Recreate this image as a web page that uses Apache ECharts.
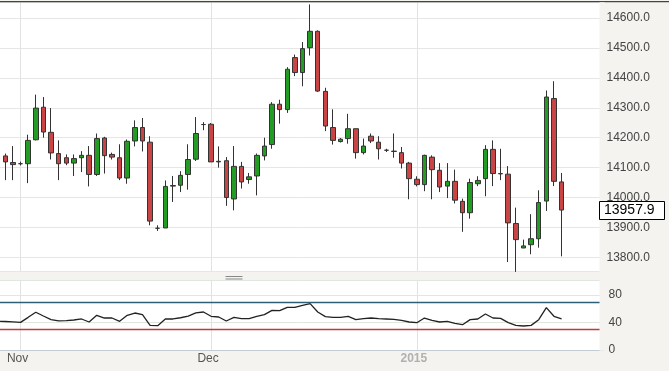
<!DOCTYPE html>
<html><head><meta charset="utf-8">
<script src="https://cdn.jsdelivr.net/npm/echarts@6/dist/echarts.min.js"></script>
<style>html,body{margin:0;padding:0;background:#f4f3ef}#c{width:669px;height:371px}</style>
</head><body><div id="c"></div>
<script>
// Trading days (Sun-Fri sessions); last five are empty slots on the right
const dates = [
 '2014-10-29','2014-10-30','2014-10-31','2014-11-02','2014-11-03','2014-11-04','2014-11-05','2014-11-06','2014-11-07',
 '2014-11-09','2014-11-10','2014-11-11','2014-11-12','2014-11-13','2014-11-14','2014-11-16','2014-11-17','2014-11-18',
 '2014-11-19','2014-11-20','2014-11-21','2014-11-23','2014-11-24','2014-11-25','2014-11-26','2014-11-27','2014-11-28',
 '2014-11-30','2014-12-01','2014-12-02','2014-12-03','2014-12-04','2014-12-05','2014-12-07','2014-12-08','2014-12-09',
 '2014-12-10','2014-12-11','2014-12-12','2014-12-14','2014-12-15','2014-12-16','2014-12-17','2014-12-18','2014-12-19',
 '2014-12-21','2014-12-22','2014-12-23','2014-12-24','2014-12-25','2014-12-26','2014-12-28','2014-12-29','2014-12-30',
 '2014-12-31','2015-01-01','2015-01-02','2015-01-04','2015-01-05','2015-01-06','2015-01-07','2015-01-08','2015-01-09',
 '2015-01-11','2015-01-12','2015-01-13','2015-01-14','2015-01-15','2015-01-16','2015-01-18','2015-01-19','2015-01-20',
 '2015-01-21','2015-01-22','2015-01-23','2015-01-25','2015-01-26','2015-01-27','2015-01-28','2015-01-29'
];
const opens = [null,
 14139,14117,14113,14113,14193,14302,14218,14147,14133,14115,14133,14141,14077,14199,14144,14133,14065,14189,14234,14185,
 13897,13898,14040,14041,14077,14128,14244,14245,14121,14123,13995,14104,14060,14072,14139,14177,14312,14294,14468,14418,
 14501,14556,14355,14234,14187,14197,14230,14150,14205,14185,14158,14155,14150,14115,14061,14043,14135,14091,14038,14054,
 13987,13949,14046,14063,14161,14080,14078,13913,13831,13842,13862,13988,14331,14052];
const closes = [null,
 14119,14110,14113,14191,14299,14219,14149,14113,14115,14130,14141,14077,14197,14140,14135,14065,14188,14234,14189,13921,
 13897,14037,14038,14074,14127,14214,14244,14119,14119,14000,14104,14052,14069,14141,14172,14312,14294,14429,14418,14498,
 14556,14356,14239,14191,14195,14230,14150,14172,14189,14163,14158,14154,14115,14063,14043,14141,14093,14035,14054,13991,
 13949,14050,14057,14161,14080,14079,13915,13859,13838,13862,13983,14336,14054,13957.9];
const lows = [null,
 14058,14058,14107,14048,14191,14200,14127,14058,14108,14072,14085,14037,14072,14080,14127,14058,14046,14171,14154,13907,
 13888,13898,13985,14018,14026,14122,14225,14119,14100,13972,13957,14030,14046,14007,14124,14163,14247,14283,14406,14372,
 14475,14353,14222,14177,14184,14180,14130,14144,14182,14127,14152,14133,14097,13994,14037,14021,13994,14018,13998,13980,
 13885,13929,14038,14004,14038,14058,13784,13751,13831,13810,13832,13955,14038,13803];
const highs = [null,
 14147,14172,14120,14210,14344,14336,14299,14191,14144,14144,14155,14172,14214,14203,14150,14178,14194,14258,14266,14205,
 13907,14057,14072,14088,14178,14269,14252,14249,14171,14135,14172,14119,14082,14147,14200,14319,14327,14436,14478,14520,
 14646,14559,14367,14295,14199,14280,14230,14197,14214,14205,14163,14214,14169,14119,14071,14143,14141,14115,14115,14093,
 13996,14063,14071,14175,14191,14163,14105,13966,13859,13944,14024,14358,14389,14082];
const rsi = [42,
 41.5,41,40.3,47.6,55,49.5,44.2,42.3,42.7,43.7,45.2,40.8,50.5,46.6,46.6,41.8,50.5,53.9,51.5,35.9,
 35.5,45.2,45.2,47,49.5,54,55.4,49.1,48.1,42.3,47.6,45.7,45.7,49.1,51.5,57.8,57.3,62.2,62.2,65.1,
 67.5,55.4,48.6,47.6,47.6,49.1,44.2,45.7,46.6,45.7,45.2,44.7,43.2,40.8,39.8,46.6,43.2,40.8,41.8,38.9,
 36.9,44.2,45.2,52.5,46.6,46.1,39.8,35.9,35.0,35.9,44.2,61.7,49.1,45.2];
const axisMarks = {'2014-11-02':'Nov','2014-12-01':'Dec','2015-01-01':'2015'};
const rsiUpper = 70, rsiLower = 30;
const lastPrice = 13957.9;

const candles = opens.map((o,i)=> o==null ? ['-','-','-','-'] : [o, closes[i], lows[i], highs[i]]);
const FONT = 'Arial, "Liberation Sans", sans-serif';
const BG = '#f4f3ef';
const isMark = (i, v) => axisMarks[v] !== undefined;

const chart = echarts.init(document.getElementById('c'), null, {renderer:'canvas'});
const option = {
  animation:false,
  backgroundColor:BG,
  grid:[
    {left:-6.12, right:65.5, top:2, height:269, show:true, backgroundColor:'#fff', borderWidth:0, outerBoundsMode:'none', containLabel:false},
    {left:-6.12, right:65.5, top:280, height:70, show:true, backgroundColor:'#fff', borderWidth:0, outerBoundsMode:'none', containLabel:false}
  ],
  xAxis:[
    {type:'category', gridIndex:0, data:dates, axisLine:{show:false}, axisTick:{show:false}, axisLabel:{show:false},
     splitLine:{show:true, interval:isMark, alignWithLabel:true, lineStyle:{color:'#e2e2e2', width:1}}},
    {type:'category', gridIndex:1, data:dates, axisLine:{show:true, lineStyle:{color:'#c3ccd4'}}, axisTick:{show:false},
     axisLabel:{interval:isMark, margin:3, padding:[0,6,0,0], color:'#555', fontSize:12, fontFamily:FONT,
       formatter:v=> axisMarks[v]==='2015' ? '{y|2015}' : (axisMarks[v]||''),
       rich:{y:{fontWeight:'bold', color:'#b0b0b0', fontSize:12, fontFamily:FONT}}},
     splitLine:{show:true, interval:isMark, alignWithLabel:true, lineStyle:{color:'#e2e2e2', width:1}}}
  ],
  yAxis:[
    {type:'value', gridIndex:0, position:'right', min:13754, max:14654, splitNumber:9, minInterval:100, maxInterval:100,
     axisLine:{show:false}, axisTick:{show:false},
     axisLabel:{showMinLabel:false, showMaxLabel:false, margin:3, color:'#444', fontSize:12, fontFamily:FONT, formatter:v=>v.toFixed(1)},
     splitLine:{lineStyle:{color:'#e6e6e6'}}},
    {type:'value', gridIndex:1, position:'right', min:0, max:102, interval:40,
     axisLine:{show:false}, axisTick:{show:false},
     axisLabel:{showMaxLabel:false, margin:5, color:'#444', fontSize:12, fontFamily:FONT},
     splitLine:{lineStyle:{color:'#e0e6e0'}}}
  ],
  series:[
    {type:'candlestick', xAxisIndex:0, yAxisIndex:0, data:candles, barWidth:5,
     itemStyle:{color:'#239c23', color0:'#c94444', borderColor:'#333', borderColor0:'#333', borderColorDoji:'#333', borderWidth:1}},
    {type:'line', xAxisIndex:1, yAxisIndex:1, data:rsi, symbol:'none', lineStyle:{color:'#222', width:1.3},
     markLine:{silent:true, symbol:'none', label:{show:false},
       data:[{yAxis:rsiUpper, lineStyle:{color:'#2d5f78', width:1.3, type:'solid'}},
             {yAxis:rsiLower, lineStyle:{color:'#c23a3a', width:1.3, type:'solid'}}]}}
  ]
};
chart.setOption(option);
const yPix = Math.round(chart.convertToPixel({yAxisIndex:0}, lastPrice));
chart.setOption({graphic:[
  {type:'rect', shape:{x:0, y:1, width:669, height:1.3}, style:{fill:'#444'}, z:100},
  {type:'rect', shape:{x:599.5, y:2.3, width:5, height:348.5}, style:{fill:BG}, z:100},
  {type:'line', shape:{x1:225.5, y1:276.5, x2:242.5, y2:276.5}, style:{stroke:'#888', lineWidth:1}, z:100},
  {type:'line', shape:{x1:225.5, y1:279, x2:242.5, y2:279}, style:{stroke:'#888', lineWidth:1}, z:100},
  {type:'rect', shape:{x:599.5, y:yPix-8.5, width:65, height:18}, style:{fill:'#fff', stroke:'#000', lineWidth:1}, z:101},
  {type:'text', style:{text:lastPrice.toFixed(1), x:604, y:yPix+0.5, verticalAlign:'middle', font:'14px '+FONT, fill:'#000'}, z:102}
]});
</script></body></html>
